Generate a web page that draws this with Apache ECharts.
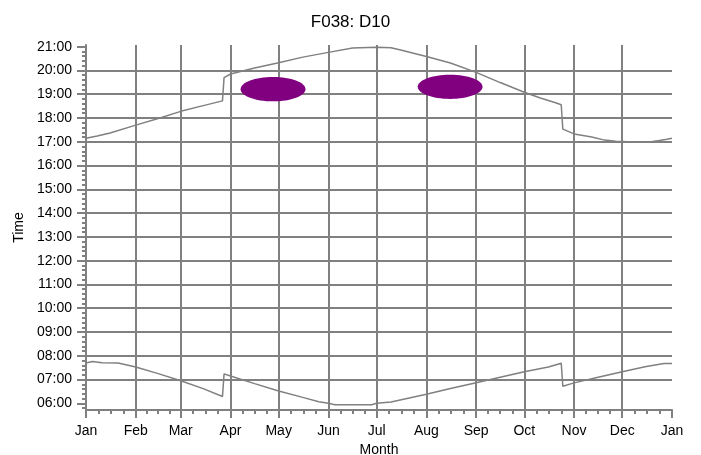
<!DOCTYPE html>
<html>
<head>
<meta charset="utf-8">
<script src="https://cdn.jsdelivr.net/npm/echarts@6/dist/echarts.min.js"></script>
<style>html,body{margin:0;padding:0;background:#fff}#c{width:701px;height:455px}</style>
</head>
<body>
<div id="c"></div>
<script>
// Month boundaries (day of year) and labels
const monthStartDays = [0, 31, 59, 90, 120, 151, 181, 212, 243, 273, 304, 334, 365];
const monthLabels = ['Jan', 'Feb', 'Mar', 'Apr', 'May', 'Jun', 'Jul', 'Aug', 'Sep', 'Oct', 'Nov', 'Dec', 'Jan'];
// Hour ticks and labels
const hourTicks = [6, 7, 8, 9, 10, 11, 12, 13, 14, 15, 16, 17, 18, 19, 20, 21];
const hourLabels = ['06:00', '07:00', '08:00', '09:00', '10:00', '11:00', '12:00', '13:00',
  '14:00', '15:00', '16:00', '17:00', '18:00', '19:00', '20:00', '21:00'];

// Sunset (upper curve): day of year, hour of day
const sunsetDays = [0, 7, 15, 31, 45, 59, 73, 85, 86, 90, 105, 120, 135, 151, 166, 181, 190, 196, 212, 227, 243, 258, 273, 283, 293, 296, 297, 304, 315, 323, 330, 345, 352, 357, 362, 365];
const sunsetHours = [17.15, 17.24, 17.37, 17.70, 17.98, 18.28, 18.52, 18.72, 19.70, 19.85, 20.10, 20.32, 20.56, 20.76, 20.94, 20.98, 20.95, 20.86, 20.59, 20.31, 19.92, 19.49, 19.08, 18.84, 18.63, 18.56, 17.53, 17.33, 17.20, 17.07, 17.02, 16.98, 17.00, 17.05, 17.11, 17.15];

// Sunrise (lower curve): day of year, hour of day
const sunriseDays = [0, 4, 10, 20, 31, 45, 59, 73, 85, 86, 90, 105, 120, 135, 145, 151, 155, 178, 181, 190, 212, 227, 243, 258, 273, 288, 296, 297, 304, 319, 334, 349, 360, 365];
const sunriseHours = [7.70, 7.76, 7.71, 7.70, 7.53, 7.25, 6.95, 6.62, 6.29, 7.24, 7.15, 6.83, 6.52, 6.25, 6.07, 6.00, 5.94, 5.94, 6.00, 6.06, 6.38, 6.62, 6.87, 7.10, 7.33, 7.53, 7.69, 6.72, 6.86, 7.10, 7.33, 7.55, 7.68, 7.68];

// Purple blobs: centre (day, hour) and extent (days, hours)
const blobDays = [116.5, 226.8];
const blobHours = [19.21, 19.31];
const blobSpanDays = [40.4, 40.4];
const blobSpanHours = [1.02, 1.02];

// Minor tick positions derived from the axes
const weekTicks = [];
for (let m = 0; m < monthStartDays.length - 1; m++) {
  const a = monthStartDays[m], b = monthStartDays[m + 1];
  for (let k = 1; k < 4; k++) weekTicks.push(a + (b - a) * k / 4);
}
const minuteTicks = [];
for (let i = 29; i <= 105; i++) { if (i % 5) minuteTicks.push(i / 5); }

const GRAY = '#808080';
const FONT = 'Liberation Sans, Arial, sans-serif';

const sunset = sunsetDays.map((d, i) => [d, sunsetHours[i]]);
const sunrise = sunriseDays.map((d, i) => [d, sunriseHours[i]]);
const blobs = blobDays.map((d, i) => [d, blobHours[i], blobSpanDays[i], blobSpanHours[i]]);

const chart = echarts.init(document.getElementById('c'), null, { renderer: 'canvas' });
chart.setOption({
  animation: false,
  backgroundColor: '#fff',
  title: {
    text: 'F038: D10', left: 'center', top: 9,
    textStyle: { fontFamily: FONT, fontSize: 17, fontWeight: 'normal', color: '#000' }
  },
  grid: { left: 86, right: 29, top: 45, bottom: 45, outerBoundsMode: 'none', containLabel: false },
  xAxis: [{
    type: 'value', min: 0, max: 365, position: 'bottom',
    name: 'Month', nameLocation: 'middle', nameGap: 30,
    nameTextStyle: { fontFamily: FONT, fontSize: 14, color: '#000' },
    axisLine: { show: true, lineStyle: { color: GRAY, width: 2 } },
    axisTick: { show: true, customValues: monthStartDays, length: 8, lineStyle: { color: GRAY, width: 2 } },
    axisLabel: {
      customValues: monthStartDays, margin: 14, fontFamily: FONT, fontSize: 14, color: '#000',
      formatter: v => monthLabels[monthStartDays.indexOf(v)]
    },
    splitLine: { show: true, showMinLine: false, showMaxLine: false, lineStyle: { color: GRAY, width: 2 } }
  }, {
    type: 'value', min: 0, max: 365, position: 'bottom',
    axisLine: { show: false },
    axisTick: { show: true, customValues: weekTicks, length: 4, lineStyle: { color: GRAY, width: 2 } },
    axisLabel: { show: false },
    splitLine: { show: false }
  }],
  yAxis: [{
    type: 'value', min: 5.72, max: 21.07, position: 'left',
    name: 'Time', nameLocation: 'middle', nameGap: 60, nameRotate: 90,
    nameTextStyle: { fontFamily: FONT, fontSize: 14, color: '#000' },
    axisLine: { show: true, lineStyle: { color: GRAY, width: 2 } },
    axisTick: { show: true, customValues: hourTicks, length: 9, lineStyle: { color: GRAY, width: 2 } },
    axisLabel: {
      customValues: hourTicks, margin: 14, fontFamily: FONT, fontSize: 14, color: '#000',
      formatter: v => hourLabels[hourTicks.indexOf(v)]
    },
    splitLine: { show: true, showMinLine: false, showMaxLine: false, lineStyle: { color: GRAY, width: 2 } }
  }, {
    type: 'value', min: 5.72, max: 21.07, position: 'left',
    axisLine: { show: false },
    axisTick: { show: true, customValues: minuteTicks, length: 4, lineStyle: { color: GRAY, width: 2 } },
    axisLabel: { show: false },
    splitLine: { show: false }
  }],
  series: [{
    type: 'line', name: 'Sunset', data: sunset, showSymbol: false, silent: true,
    lineStyle: { color: GRAY, width: 1.5 }, z: 3
  }, {
    type: 'line', name: 'Sunrise', data: sunrise, showSymbol: false, silent: true,
    lineStyle: { color: GRAY, width: 1.5 }, z: 3
  }, {
    type: 'custom', name: 'Blobs', data: blobs, z: 4, silent: true,
    renderItem: function (params, api) {
      const c = api.coord([api.value(0), api.value(1)]);
      const s = api.size([api.value(2), api.value(3)]);
      return {
        type: 'ellipse',
        shape: { cx: c[0], cy: c[1], rx: s[0] / 2, ry: s[1] / 2 },
        style: { fill: '#800080' }
      };
    }
  }]
});
</script>
</body>
</html>
